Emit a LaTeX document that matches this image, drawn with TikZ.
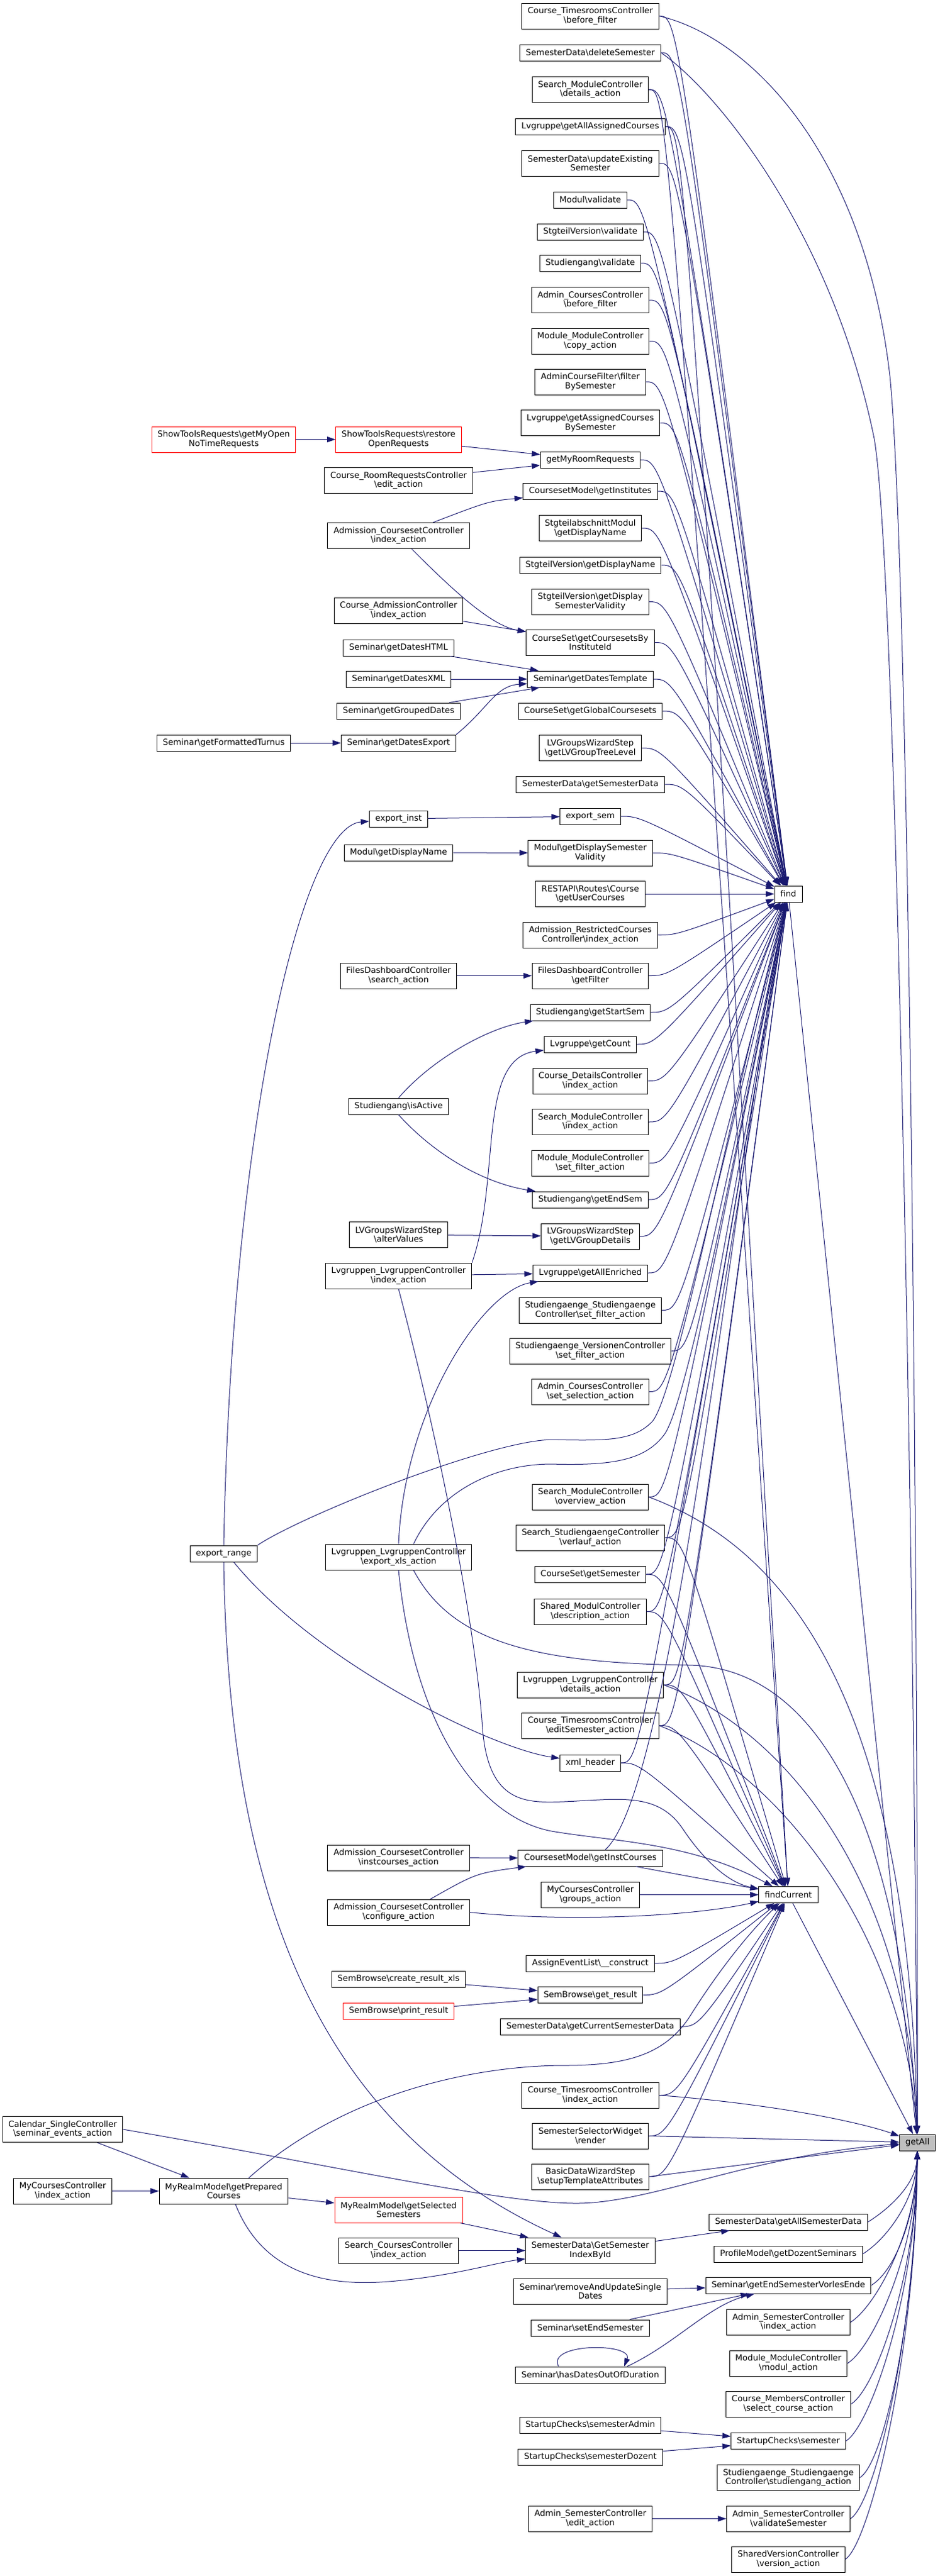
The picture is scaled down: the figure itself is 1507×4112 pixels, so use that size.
\documentclass[tikz,border=0pt]{standalone}
\usepackage{fontspec}
\setmainfont{DejaVu Sans}
\usepackage{tikz}
\usetikzlibrary{arrows.meta}
\definecolor{edgeblue}{RGB}{25,25,112}
\newcommand{\bsl}{\textbackslash}

\begin{document}
\begin{tikzpicture}[x=0.75pt, y=-0.75pt,
  fn/.style={rectangle, draw=black, line width=0.75pt, fill=white, inner xsep=7pt, inner ysep=2pt, minimum height=19.5pt, align=center, font=\fontsize{10}{11}\selectfont},
  two/.style={minimum height=30.75pt},
  trunc/.style={draw=red},
  root/.style={fill=gray!50},
  call/.style={draw=edgeblue, line width=0.75pt, -{Triangle[length=10pt, width=6.7pt]}}]

\useasboundingbox (0,0) rectangle (1507,4112);

%\draw[step=100, gray, very thin, dotted] (0,0) grid (1507,4112);

% callers in the middle column
\node at (942,25.5) [fn,two] (ctbf) {Course\_TimesroomsController\\\bsl before\_filter};
\node at (942,84) [fn] (sdds) {SemesterData\bsl deleteSemester};
\node at (942,143) [fn,two] (smcd) {Search\_ModuleController\\\bsl details\_action};
\node at (942,202) [fn] (lgaac) {Lvgruppe\bsl getAllAssignedCourses};
\node at (942,260.5) [fn,two] (sdues) {SemesterData\bsl updateExisting\\Semester};
\node at (942,319) [fn] (mval) {Modul\bsl validate};
\node at (942,370) [fn] (svval) {StgteilVersion\bsl validate};
\node at (942,420) [fn] (sgval) {Studiengang\bsl validate};
\node at (942,479) [fn,two] (accbf) {Admin\_CoursesController\\\bsl before\_filter};
\node at (942,544.5) [fn,two] (mmcc) {Module\_ModuleController\\\bsl copy\_action};
\node at (942,609.5) [fn,two] (acff) {AdminCourseFilter\bsl filter\\BySemester};
\node at (942,675) [fn,two] (lgacs) {Lvgruppe\bsl getAssignedCourses\\BySemester};
\node at (942,734) [fn] (gmrr) {getMyRoomRequests};
\node at (942,784) [fn] (cmgi) {CoursesetModel\bsl getInstitutes};
\node at (942,843) [fn,two] (samg) {StgteilabschnittModul\\\bsl getDisplayName};
\node at (942,902) [fn] (svgdn) {StgteilVersion\bsl getDisplayName};
\node at (942,960.5) [fn,two] (svgds) {StgteilVersion\bsl getDisplay\\SemesterValidity};
\node at (942,1025.5) [fn,two] (csgc) {CourseSet\bsl getCoursesetsBy\\InstituteId};
\node at (942,1084) [fn] (sgdt) {Seminar\bsl getDatesTemplate};
\node at (942,1135) [fn] (csgg) {CourseSet\bsl getGlobalCoursesets};
\node at (942,1194) [fn,two] (lwtl) {LVGroupsWizardStep\\\bsl getLVGroupTreeLevel};
\node at (942,1252) [fn] (sdgs) {SemesterData\bsl getSemesterData};
\node at (942,1303) [fn] (exsem) {export\_sem};
\node at (942,1361.5) [fn,two] (mgds) {Modul\bsl getDisplaySemester\\Validity};
\node at (942,1427) [fn,two] (rest) {RESTAPI\bsl Routes\bsl Course\\\bsl getUserCourses};
\node at (942,1492.5) [fn,two] (arci) {Admission\_RestrictedCourses\\Controller\bsl index\_action};
\node at (942,1557.5) [fn,two] (fdgf) {FilesDashboardController\\\bsl getFilter};
\node at (942,1616) [fn] (sgss) {Studiengang\bsl getStartSem};
\node at (942,1667) [fn] (lggc) {Lvgruppe\bsl getCount};
\node at (942,1725.5) [fn,two] (cdci) {Course\_DetailsController\\\bsl index\_action};
\node at (942,1791) [fn,two] (smci) {Search\_ModuleController\\\bsl index\_action};
\node at (942,1856.5) [fn,two] (mmcs) {Module\_ModuleController\\\bsl set\_filter\_action};
\node at (942,1915) [fn] (sges) {Studiengang\bsl getEndSem};
\node at (942,1973.5) [fn,two] (lwgd) {LVGroupsWizardStep\\\bsl getLVGroupDetails};
\node at (942,2032) [fn] (lgae) {Lvgruppe\bsl getAllEnriched};
\node at (942,2091.5) [fn,two] (sssf) {Studiengaenge\_Studiengaenge\\Controller\bsl set\_filter\_action};
\node at (942,2156.5) [fn,two] (svsf) {Studiengaenge\_VersionenController\\\bsl set\_filter\_action};
\node at (942,2221.5) [fn,two] (accss) {Admin\_CoursesController\\\bsl set\_selection\_action};
\node at (942,2389.5) [fn,two] (smco) {Search\_ModuleController\\\bsl overview\_action};
\node at (942,2454.5) [fn,two] (sscv) {Search\_StudiengaengeController\\\bsl verlauf\_action};
\node at (942,2513) [fn] (csgs) {CourseSet\bsl getSemester};
\node at (942,2572.5) [fn,two] (smcdesc) {Shared\_ModulController\\\bsl description\_action};
\node at (942,2689.5) [fn,two] (llcd) {Lvgruppen\_LvgruppenController\\\bsl details\_action};
\node at (942,2754.5) [fn,two] (ctes) {Course\_TimesroomsController\\\bsl editSemester\_action};
\node at (942,2814) [fn] (xmlh) {xml\_header};
\node at (942,2966) [fn] (cmgic) {CoursesetModel\bsl getInstCourses};
\node at (942,3024.5) [fn,two] (mccg) {MyCoursesController\\\bsl groups\_action};
\node at (942,3134) [fn] (aelc) {AssignEventList\bsl \_\_construct};
\node at (942,3184.5) [fn] (sbgr) {SemBrowse\bsl get\_result};
\node at (942,3235) [fn] (sdgc) {SemesterData\bsl getCurrentSemesterData};
\node at (942,3344.5) [fn,two] (ctci) {Course\_TimesroomsController\\\bsl index\_action};
\node at (942,3409.5) [fn,two] (sswr) {SemesterSelectorWidget\\\bsl render};
\node at (942,3474.5) [fn,two] (bdws) {BasicDataWizardStep\\\bsl setupTemplateAttributes};
\node at (942,3592.5) [fn,two] (gsi) {SemesterData\bsl GetSemester\\IndexById};
\node at (942,3657.5) [fn,two] (sraud) {Seminar\bsl removeAndUpdateSingle\\Dates};
\node at (942,3716) [fn] (sses) {Seminar\bsl setEndSemester};
\node at (942,3791) [fn] (shdod) {Seminar\bsl hasDatesOutOfDuration};
\node at (942,3871) [fn] (scsa) {StartupChecks\bsl semesterAdmin};
\node at (942,3922) [fn] (scsd) {StartupChecks\bsl semesterDozent};
\node at (942,4020.5) [fn,two] (ascea) {Admin\_SemesterController\\\bsl edit\_action};

% left columns
\node at (636,701.5) [fn,two,trunc] (strr) {ShowToolsRequests\bsl restore\\OpenRequests};
\node at (636,767) [fn,two] (crre) {Course\_RoomRequestsController\\\bsl edit\_action};
\node at (636,855) [fn,two] (acci) {Admission\_CoursesetController\\\bsl index\_action};
\node at (636,974.5) [fn,two] (caci) {Course\_AdmissionController\\\bsl index\_action};
\node at (636,1034) [fn] (sgdh) {Seminar\bsl getDatesHTML};
\node at (636,1084) [fn] (sgdx) {Seminar\bsl getDatesXML};
\node at (636,1135) [fn] (sggd) {Seminar\bsl getGroupedDates};
\node at (636,1186) [fn] (sgde) {Seminar\bsl getDatesExport};
\node at (636,1307) [fn] (exinst) {export\_inst};
\node at (636,1361) [fn] (mgdn) {Modul\bsl getDisplayName};
\node at (636,1557.5) [fn,two] (fdsa) {FilesDashboardController\\\bsl search\_action};
\node at (636,1766) [fn] (sgia) {Studiengang\bsl isActive};
\node at (636,1971) [fn,two] (lwav) {LVGroupsWizardStep\\\bsl alterValues};
\node at (636,2036.5) [fn,two] (llci) {Lvgruppen\_LvgruppenController\\\bsl index\_action};
\node at (636,2485.5) [fn,two] (llcx) {Lvgruppen\_LvgruppenController\\\bsl export\_xls\_action};
\node at (636,2965.5) [fn,two] (acic) {Admission\_CoursesetController\\\bsl instcourses\_action};
\node at (636,3052.5) [fn,two] (accf) {Admission\_CoursesetController\\\bsl configure\_action};
\node at (636,3159) [fn] (sbcx) {SemBrowse\bsl create\_result\_xls};
\node at (636,3210) [fn,trunc] (sbpr) {SemBrowse\bsl print\_result};
\node at (636,3527.5) [fn,two,trunc] (mrgs) {MyRealmModel\bsl getSelected\\Semesters};
\node at (636,3592.5) [fn,two] (scci) {Search\_CoursesController\\\bsl index\_action};

\node at (357,701.5) [fn,two,trunc] (stgm) {ShowToolsRequests\bsl getMyOpen\\NoTimeRequests};
\node at (357,1186) [fn] (sgft) {Seminar\bsl getFormattedTurnus};
\node at (357,2480) [fn] (exrange) {export\_range};
\node at (357,3497.5) [fn,two] (mrgp) {MyRealmModel\bsl getPrepared\\Courses};

\node at (100,3399) [fn,two] (cscs) {Calendar\_SingleController\\\bsl seminar\_events\_action};
\node at (100,3497.5) [fn,two] (mcci) {MyCoursesController\\\bsl index\_action};

% right columns
\node at (1258,1427) [fn] (find) {find};
\node at (1258,3024.5) [fn] (fcur) {findCurrent};
\node at (1258,3547) [fn] (sdga) {SemesterData\bsl getAllSemesterData};
\node at (1258,3598) [fn] (pmgd) {ProfileModel\bsl getDozentSeminars};
\node at (1258,3648) [fn] (sgesv) {Seminar\bsl getEndSemesterVorlesEnde};
\node at (1258,3707) [fn,two] (asci) {Admin\_SemesterController\\\bsl index\_action};
\node at (1258,3772.5) [fn,two] (mmcm) {Module\_ModuleController\\\bsl modul\_action};
\node at (1258,3837.5) [fn,two] (cmcs) {Course\_MembersController\\\bsl select\_course\_action};
\node at (1258,3896.5) [fn] (scs) {StartupChecks\bsl semester};
\node at (1258,3955) [fn,two] (ssca) {Studiengaenge\_Studiengaenge\\Controller\bsl studiengang\_action};
\node at (1258,4020.5) [fn,two] (ascv) {Admin\_SemesterController\\\bsl validateSemester};
\node at (1258,4085.5) [fn,two] (svca) {SharedVersionController\\\bsl version\_action};
\node at (1464,3420) [fn,root] (getall) {getAll};

% calls of find and findCurrent
\foreach \n in {ctbf,sdds,smcd,lgaac,sdues,mval,svval,sgval,accbf,mmcc,acff,lgacs,gmrr,cmgi,samg,svgdn,svgds,csgc,sgdt,csgg,lwtl,sdgs,exsem,mgds,rest,arci,fdgf,sgss,lggc,cdci,smci,mmcs,sges,lwgd,lgae,sssf,svsf,accss,smco,sscv,csgs,smcdesc,llcd,ctes,xmlh}
  \draw[call] (\n.east) .. controls +(30,0) .. (find);
\foreach \n in {smcd,lgaac,sscv,csgs,smcdesc,llcd,ctes,xmlh,mccg,aelc,sbgr,sdgc,ctci,sswr,bdws}
  \draw[call] (\n.east) .. controls +(30,0) .. (fcur);
\draw[call] ([xshift=18pt]cmgic.north) .. controls (1080,2850) and (1180,1800) .. (find);
\draw[call] (cmgic) -- (fcur);

% calls of getAll
\draw[call] (find) -- (getall);
\draw[call] (fcur) -- (getall);
\foreach \n/\k in {sdga/63,pmgd/89,sgesv/114,asci/143,mmcm/176,cmcs/209,scs/238,ssca/268,ascv/300,svca/333}
  \draw[call] (\n.east) .. controls +(40,-25) and (1462,{3420+\k}) .. (getall);
\draw[call] (ctbf.east) .. controls (1200,60) and (1380,250) .. (1420,600) .. controls (1450,900) and (1465,2500) .. (getall);
\draw[call] (sdds.east) .. controls (1150,150) and (1330,380) .. (1395,700) .. controls (1430,900) and (1458,2500) .. (getall);
\draw[call] (smco.east) .. controls (1250,2470) and (1450,2700) .. (getall);
\draw[call] (llcd.east) .. controls (1250,2760) and (1448,3000) .. (getall);
\draw[call] (ctes.east) .. controls (1250,2830) and (1445,3100) .. (getall);
\draw[call] ([xshift=18pt]llcx.south) .. controls (720,2620) and (850,2655) .. (1100,2658) .. controls (1300,2662) and (1440,2900) .. (getall);
\draw[call] (ctci.east) .. controls (1250,3360) and (1380,3390) .. (getall);
\draw[call] (sswr.east) -- (getall);
\draw[call] (bdws.east) -- (getall);
\draw[call] (cscs.east) .. controls (550,3460) and (800,3517) .. (920,3517) .. controls (1040,3517) and (1200,3440) .. (getall);

% upper left
\draw[call] (stgm) -- (strr);
\draw[call] (strr) -- (gmrr);
\draw[call] (crre) -- (gmrr);
\draw[call] (acci) .. controls (780,800) .. (cmgi);
\draw[call] (acci) .. controls (740,960) and (790,1000) .. (csgc);
\draw[call] (caci) -- (csgc);
\draw[call] (sgdh) -- (sgdt);
\draw[call] (sgdx) -- (sgdt);
\draw[call] (sggd) -- (sgdt);
\draw[call] (sgde.north east) .. controls (780,1130) and (790,1095) .. (sgdt);
\draw[call] (sgft) -- (sgde);
\draw[call] (exinst) -- (exsem);
\draw[call] (mgdn) -- (mgds);
\draw[call] (fdsa) -- (fdgf);
\draw[call] (sgia.north) .. controls (690,1690) and (780,1640) .. (sgss);
\draw[call] (sgia.south) .. controls (700,1850) and (780,1890) .. (sges);
\draw[call] (lwav) -- (lwgd);
\draw[call] (llci) -- (lgae);
\draw[call] (llci.north east) .. controls (800,1880) and (760,1690) .. (lggc);
\draw[call] (llci.south) .. controls (700,2300) and (760,2600) .. (770,2760) .. controls (780,2880) and (840,2878) .. (900,2876) .. controls (990,2872) and (1050,2860) .. (1090,2920) .. controls (1120,2965) and (1160,3005) .. (fcur);
\draw[call] (llcx.north) .. controls (645,2250) and (770,2060) .. (lgae);
\draw[call] ([xshift=18pt]llcx.north) .. controls (700,2380) and (790,2337) .. (880,2337) .. controls (980,2340) and (1030,2330) .. (1060,2290) .. controls (1100,2237) and (1200,1700) .. (find);
\draw[call] (llcx.south) .. controls (660,2750) and (760,2900) .. (880,2923) .. controls (980,2940) and (1100,2940) .. (fcur);

% export_range
\draw[call] (exrange.north) .. controls (370,1800) and (480,1320) .. (exinst);
\draw[call] (exrange.north east) .. controls (480,2420) and (780,2300) .. (880,2298) .. controls (970,2300) and (1010,2300) .. (1040,2270) .. controls (1080,2230) and (1180,1700) .. (find);
\draw[call] ([xshift=12pt]exrange.south) .. controls (500,2650) and (780,2790) .. (xmlh);
\draw[call] (exrange.south) .. controls (365,3050) and (520,3400) .. (gsi);

% lower left
\draw[call] (acic) -- (cmgic);
\draw[call] ([xshift=38pt]accf.north) .. controls (760,2990) .. (cmgic);
\draw[call] (accf.east) .. controls (900,3068) and (1100,3060) .. (fcur);
\draw[call] (sbcx) -- (sbgr);
\draw[call] (sbpr) -- (sbgr);
\draw[call] (cscs) -- (mrgp);
\draw[call] (mcci) -- (mrgp);
\draw[call] (mrgp) -- (mrgs);
\draw[call] ([xshift=30pt]mrgp.north) .. controls (550,3340) and (760,3297) .. (900,3297) .. controls (1000,3297) and (1060,3280) .. (1100,3220) .. controls (1150,3140) and (1200,3080) .. (fcur);
\draw[call] ([xshift=14pt]mrgp.south) .. controls (420,3630) and (520,3650) .. (620,3642) .. controls (720,3634) and (790,3612) .. (gsi);
\draw[call] (mrgs) -- (gsi);
\draw[call] (scci) -- (gsi);
\draw[call] (gsi) -- (sdga);

% lower right
\draw[call] (sraud) -- (sgesv);
\draw[call] (sses) -- (sgesv);
\draw[call] ([xshift=44pt]shdod.north) .. controls (1080,3740) and (1130,3680) .. (sgesv);
\draw[call] ([xshift=-38pt]shdod.north) .. controls +(-20,-38) and +(15,-38) .. ([xshift=40.5pt]shdod.north);
\draw[call] (scsa) -- (scs);
\draw[call] (scsd) -- (scs);
\draw[call] (ascea) -- (ascv);

\end{tikzpicture}
\end{document}
